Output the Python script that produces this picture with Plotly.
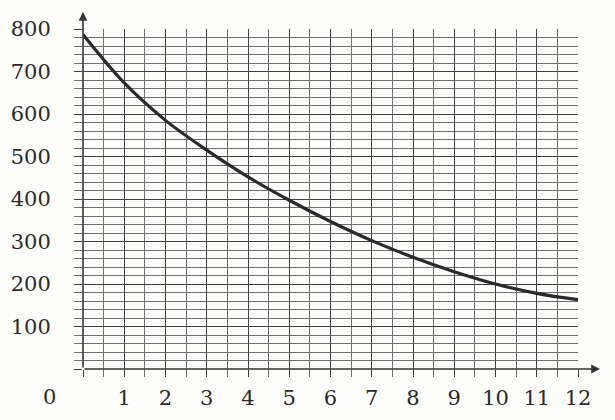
import plotly.graph_objects as go

x_vals = [0, 1, 2, 3, 4, 5, 6, 7, 8, 9, 10, 11, 12]
y_vals = [787, 673, 585, 515, 452, 397, 347, 302, 263, 229, 200, 178, 163]
x_step, x_minor = 1, 0.5
y_step, y_minor = 100, 20
origin_label = "0"

W, H = 615, 420
ML, MR, MT, MB = 83, 37, 29, 51
PW, PH = W - ML - MR, H - MT - MB

fig = go.Figure()
fig.add_trace(go.Scatter(
    x=x_vals, y=y_vals, mode="lines",
    line=dict(color="#2a2a2a", width=3.2, shape="spline", smoothing=1.0),
    hoverinfo="skip", showlegend=False, cliponaxis=False,
))

font = dict(family="DejaVu Serif", size=21, color="#2a2a2a")

fig.update_layout(
    width=W, height=H,
    margin=dict(l=ML, r=MR, t=MT, b=MB, pad=0, autoexpand=False),
    paper_bgcolor="#fdfdfb", plot_bgcolor="#fdfdfb",
    showlegend=False,
    xaxis=dict(
        range=[0, 12], tickmode="linear", tick0=0, dtick=x_step,
        labelalias={"0": ""}, automargin=False,
        showgrid=True, gridcolor="#404040", gridwidth=1.1,
        ticks="outside", ticklen=7, tickcolor="#404040", tickwidth=1.1,
        minor=dict(dtick=x_minor, tick0=0, showgrid=True, gridcolor="#707070", gridwidth=1,
                   ticks="outside", ticklen=7, tickcolor="#707070", tickwidth=1),
        showline=False, zeroline=False, tickfont=font, ticklabelstandoff=3,
        fixedrange=True,
    ),
    yaxis=dict(
        range=[0, 800], tickmode="linear", tick0=0, dtick=y_step,
        labelalias={"0": ""}, automargin=False,
        showgrid=True, gridcolor="#404040", gridwidth=1.1,
        ticks="outside", ticklen=8, tickcolor="#404040", tickwidth=1.1,
        minor=dict(dtick=y_minor, tick0=0, showgrid=True, gridcolor="#707070", gridwidth=1,
                   ticks="outside", ticklen=8, tickcolor="#707070", tickwidth=1),
        showline=False, zeroline=False, tickfont=font, ticklabelstandoff=19,
        fixedrange=True,
    ),
)

# y axis with arrow (tail at origin, head 17px above the 800 line)
fig.add_annotation(x=0, y=1 + 17 / PH, ax=0, ay=PH + 17, xref="paper", yref="paper",
                   axref="pixel", ayref="pixel", text="", showarrow=True,
                   standoff=0, startstandoff=0,
                   arrowhead=2, arrowsize=1.1, arrowwidth=1.6, arrowcolor="#333333")
# x axis with arrow
fig.add_annotation(x=1 + 22 / PW, y=0, ax=-(PW + 22), ay=0, xref="paper", yref="paper",
                   axref="pixel", ayref="pixel", text="", showarrow=True,
                   standoff=0, startstandoff=0,
                   arrowhead=2, arrowsize=1.1, arrowwidth=1.6, arrowcolor="#333333")
# origin label
fig.add_annotation(x=-(ML - 58) / PW, y=-(397 - (H - MB)) / PH, xref="paper", yref="paper",
                   text=origin_label, showarrow=False,
                   xanchor="right", yanchor="middle", font=font)

fig.write_html("out.html", config={"displayModeBar": False},
               post_script="document.body.style.margin='0';")
